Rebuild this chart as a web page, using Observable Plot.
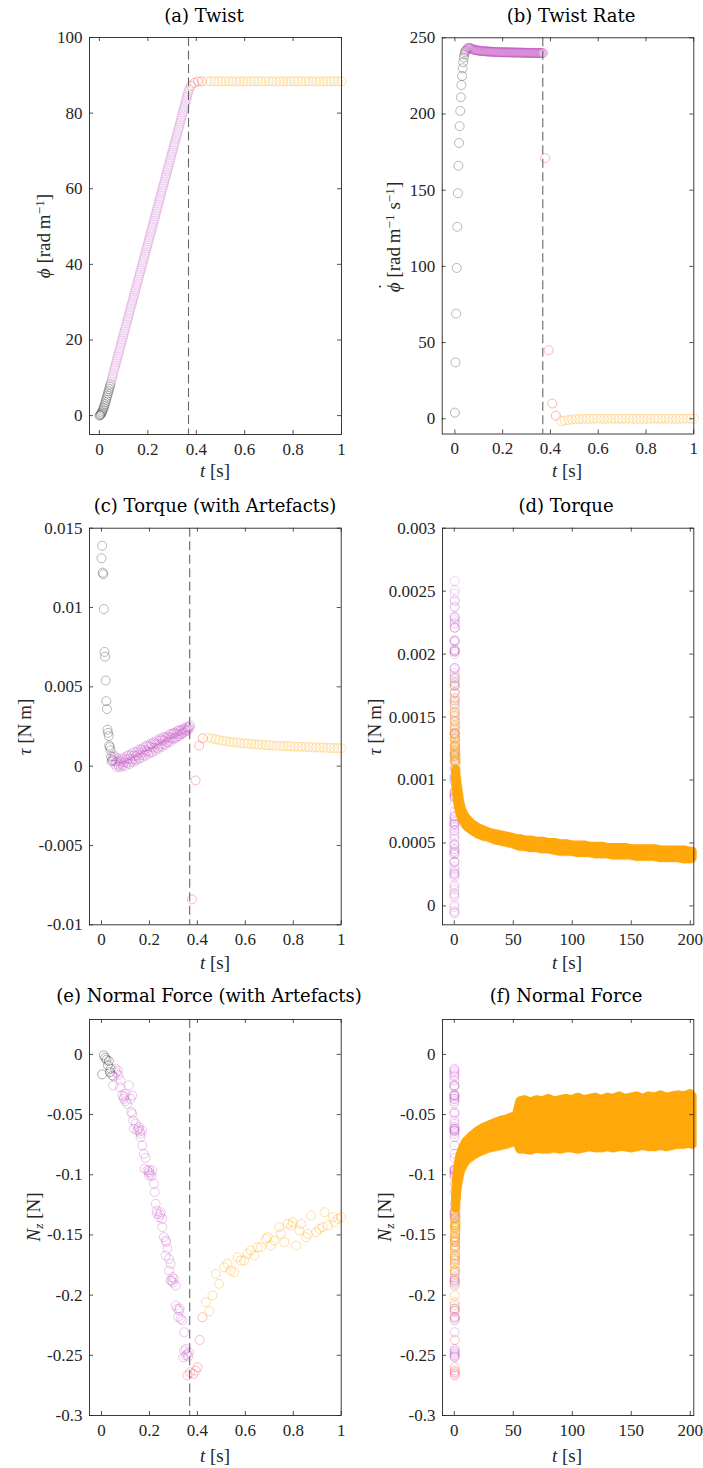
<!DOCTYPE html>
<html><head><meta charset="utf-8">
<script src="https://cdn.jsdelivr.net/npm/d3@7"></script>
<script src="https://cdn.jsdelivr.net/npm/@observablehq/plot@0.6"></script>
<style>
body{margin:0;background:#fff;}
#wrap{position:relative;width:703px;height:1468px;overflow:hidden;background:#fff;}
.title{position:absolute;font-family:"DejaVu Serif";font-size:18px;color:#000;white-space:nowrap;transform:translate(-50%,-50%);line-height:1;}
.lab{position:absolute;font-family:"Liberation Serif";font-size:19px;color:#262626;white-space:nowrap;transform:translate(-50%,-50%);line-height:1;}
.rot{transform:translate(-50%,-50%) rotate(-90deg);}
.lab sup{font-size:70%;vertical-align:0.45em;line-height:0;}
.lab sub{font-size:70%;vertical-align:-0.25em;line-height:0;}
.acc{position:relative;display:inline-block;}
.acc .dd{position:absolute;left:0.08em;right:0;text-align:center;top:-0.42em;font-style:normal;}
</style></head><body><div id="wrap"></div><script>
// ---------- data: first second (panels a, b, c) ----------
const tGray = [0, 0.0025, 0.005, 0.0075, 0.01, 0.0125, 0.015, 0.0175, 0.02, 0.0225, 0.025, 0.0275, 0.03, 0.0325, 0.035, 0.0375, 0.04, 0.0425, 0.045];
const phiGray = [0, 0.1, 0.27, 0.52, 0.83, 1.2, 1.61, 2.06, 2.54, 3.04, 3.57, 4.12, 4.68, 5.26, 5.84, 6.43, 7.03, 7.63, 8.23];
const rateGray = [4, 37, 69, 99, 126, 148, 166, 181, 192, 202, 211, 219, 225, 230, 234, 237, 239, 240.5, 241.5];
const torqueGray = [0.0131, 0.0139, 0.0122, 0.0121, 0.0099, 0.0072, 0.0069, 0.0054, 0.0041, 0.0036, 0.0023, 0.0021, 0.0019, 0.0013, 0.0012, 0.0010, 0.0006, 0.0003, 0.0004];

const tViolet = [0.0475, 0.05, 0.0525, 0.055, 0.0575, 0.06, 0.0625, 0.065, 0.0675, 0.07,
 0.0725, 0.075, 0.0775, 0.08, 0.0825, 0.085, 0.0875, 0.09, 0.0925, 0.095,
 0.0975, 0.1, 0.1025, 0.105, 0.1075, 0.11, 0.1125, 0.115, 0.1175, 0.12,
 0.1225, 0.125, 0.1275, 0.13, 0.1325, 0.135, 0.1375, 0.14, 0.1425, 0.145,
 0.1475, 0.15, 0.1525, 0.155, 0.1575, 0.16, 0.1625, 0.165, 0.1675, 0.17,
 0.1725, 0.175, 0.1775, 0.18, 0.1825, 0.185, 0.1875, 0.19, 0.1925, 0.195,
 0.1975, 0.2, 0.2025, 0.205, 0.2075, 0.21, 0.2125, 0.215, 0.2175, 0.22,
 0.2225, 0.225, 0.2275, 0.23, 0.2325, 0.235, 0.2375, 0.24, 0.2425, 0.245,
 0.2475, 0.25, 0.2525, 0.255, 0.2575, 0.26, 0.2625, 0.265, 0.2675, 0.27,
 0.2725, 0.275, 0.2775, 0.28, 0.2825, 0.285, 0.2875, 0.29, 0.2925, 0.295,
 0.2975, 0.3, 0.3025, 0.305, 0.3075, 0.31, 0.3125, 0.315, 0.3175, 0.32,
 0.3225, 0.325, 0.3275, 0.33, 0.3325, 0.335, 0.3375, 0.34, 0.3425, 0.345,
 0.3475, 0.35, 0.3525, 0.355, 0.3575, 0.36, 0.3625, 0.365, 0.3675, 0.37];
const phiViolet = [8.8, 9.4, 10.0, 10.6, 11.2, 11.9, 12.5, 13.1, 13.7, 14.3,
 14.9, 15.5, 16.1, 16.7, 17.3, 17.9, 18.5, 19.1, 19.7, 20.3,
 20.9, 21.5, 22.1, 22.7, 23.3, 23.9, 24.5, 25.1, 25.7, 26.3,
 26.9, 27.5, 28.1, 28.7, 29.3, 29.9, 30.5, 31.1, 31.7, 32.3,
 32.9, 33.5, 34.1, 34.7, 35.3, 35.9, 36.5, 37.1, 37.7, 38.3,
 38.9, 39.5, 40.1, 40.7, 41.3, 41.9, 42.5, 43.1, 43.7, 44.3,
 44.9, 45.5, 46.1, 46.7, 47.3, 47.9, 48.5, 49.1, 49.7, 50.3,
 50.9, 51.5, 52.1, 52.7, 53.3, 53.9, 54.5, 55.1, 55.7, 56.3,
 56.9, 57.5, 58.1, 58.7, 59.3, 59.9, 60.5, 61.1, 61.7, 62.3,
 62.9, 63.5, 64.1, 64.7, 65.3, 65.9, 66.5, 67.1, 67.7, 68.3,
 68.9, 69.5, 70.1, 70.7, 71.3, 71.9, 72.5, 73.1, 73.7, 74.3,
 74.9, 75.5, 76.1, 76.7, 77.3, 77.9, 78.5, 79.1, 79.7, 80.3,
 80.9, 81.5, 82.1, 82.7, 83.3, 83.9, 84.5, 85.1, 85.7, 86.3];
const rateViolet = [242.0, 242.6, 243.0, 243.3, 243.4, 243.4, 243.3, 243.2, 243.0, 242.8,
 242.6, 242.5, 242.3, 242.2, 242.1, 242.0, 241.9, 241.8, 241.8, 241.7,
 241.6, 241.6, 241.5, 241.5, 241.4, 241.4, 241.3, 241.3, 241.3, 241.2,
 241.2, 241.2, 241.1, 241.1, 241.1, 241.0, 241.0, 241.0, 241.0, 240.9,
 240.9, 240.9, 240.9, 240.8, 240.8, 240.8, 240.8, 240.8, 240.7, 240.7,
 240.7, 240.7, 240.7, 240.6, 240.6, 240.6, 240.6, 240.6, 240.6, 240.5,
 240.5, 240.5, 240.5, 240.5, 240.5, 240.5, 240.5, 240.5, 240.5, 240.5,
 240.5, 240.5, 240.4, 240.4, 240.4, 240.4, 240.4, 240.4, 240.4, 240.4,
 240.3, 240.3, 240.3, 240.3, 240.3, 240.3, 240.3, 240.3, 240.3, 240.3,
 240.3, 240.3, 240.3, 240.2, 240.2, 240.2, 240.2, 240.2, 240.2, 240.2,
 240.2, 240.1, 240.1, 240.1, 240.1, 240.1, 240.1, 240.1, 240.1, 240.1,
 240.1, 240.1, 240.1, 240.1, 240.1, 240.0, 240.0, 240.0, 240.0, 240.0,
 240.0, 240.0, 240.0, 240.0, 240.0, 240.0, 240.0, 240.0, 240.0, 240.0];
const torqueViolet = [0.00060, 0.00035, 0.00060, 0.00065, 0.00010, 0.00027, -0.00006, 0.00031, 0.00049, 0.00007,
 -0.00004, 0.00035, 0.00015, -0.00005, 0.00026, 0.00048, 0.00009, 0.00001, 0.00043, 0.00025,
 0.00057, -0.00001, 0.00041, 0.00023, 0.00065, 0.00017, 0.00049, 0.00071, 0.00013, 0.00045,
 0.00067, 0.00029, 0.00081, 0.00043, 0.00025, 0.00067, 0.00089, 0.00041, 0.00063, 0.00035,
 0.00087, 0.00069, 0.00101, 0.00053, 0.00045, 0.00087, 0.00109, 0.00071, 0.00103, 0.00055,
 0.00087, 0.00119, 0.00071, 0.00103, 0.00065, 0.00127, 0.00099, 0.00091, 0.00133, 0.00075,
 0.00127, 0.00089, 0.00121, 0.00143, 0.00085, 0.00137, 0.00119, 0.00091, 0.00153, 0.00115,
 0.00147, 0.00099, 0.00141, 0.00163, 0.00115, 0.00137, 0.00109, 0.00161, 0.00123, 0.00175,
 0.00137, 0.00169, 0.00121, 0.00163, 0.00185, 0.00137, 0.00159, 0.00181, 0.00133, 0.00175,
 0.00147, 0.00189, 0.00151, 0.00183, 0.00165, 0.00202, 0.00154, 0.00181, 0.00203, 0.00175,
 0.00202, 0.00169, 0.00211, 0.00178, 0.00210, 0.00177, 0.00204, 0.00221, 0.00188, 0.00200,
 0.00227, 0.00189, 0.00221, 0.00203, 0.00230, 0.00202, 0.00224, 0.00211, 0.00238, 0.00210,
 0.00237, 0.00229, 0.00221, 0.00248, 0.00225, 0.00242, 0.00229, 0.00251, 0.00243, 0.00258];

const tRed = [0.3775, 0.3925, 0.4075, 0.4225];
const phiRed = [87.2, 88.0, 88.4, 88.4];
const rateRed = [171, 45, 10, 2];
const torqueRed = [-0.0084, -0.0009, 0.0013, 0.00176];

const tOrange = [0.445, 0.46, 0.475, 0.49, 0.505, 0.52, 0.535, 0.55, 0.565, 0.58,
 0.595, 0.61, 0.625, 0.64, 0.655, 0.67, 0.685, 0.7, 0.715, 0.73,
 0.745, 0.76, 0.775, 0.79, 0.805, 0.82, 0.835, 0.85, 0.865, 0.88,
 0.895, 0.91, 0.925, 0.94, 0.955, 0.97, 0.985, 1.0];
const phiOrange = [88.4, 88.4, 88.4, 88.4, 88.4, 88.4, 88.4, 88.4, 88.4, 88.4,
 88.4, 88.4, 88.4, 88.4, 88.4, 88.4, 88.4, 88.4, 88.4, 88.4,
 88.4, 88.4, 88.4, 88.4, 88.4, 88.4, 88.4, 88.4, 88.4, 88.4,
 88.4, 88.4, 88.4, 88.4, 88.4, 88.4, 88.4, 88.4];
const rateOrange = [-1.6, -1.2, -0.8, -0.5, -0.3, -0.2, -0.1, -0.1, 0, 0,
 0.1, 0, 0, 0, 0.1, 0, 0, 0, 0, 0.1,
 0, 0, 0, 0, 0, 0, 0.1, 0, 0, 0,
 0, 0, 0, 0, 0, 0, 0, 0];
const torqueOrange = [0.00180, 0.00175, 0.00170, 0.00165, 0.00160, 0.00157, 0.00154, 0.00151, 0.00149, 0.00146,
 0.00144, 0.00142, 0.00140, 0.00138, 0.00136, 0.00135, 0.00133, 0.00132, 0.00130, 0.00129,
 0.00128, 0.00127, 0.00126, 0.00125, 0.00124, 0.00123, 0.00122, 0.00121, 0.00120, 0.00119,
 0.00118, 0.00117, 0.00117, 0.00116, 0.00115, 0.00114, 0.00114, 0.00113];

// ---------- data: normal force, first second (panel e) ----------
const tNGray = [0.003, 0.0098, 0.0153, 0.021, 0.027, 0.031, 0.035, 0.038, 0.045];
const nGray = [-0.0166, -0.0008, -0.0028, -0.0044, -0.0091, -0.0055, -0.0147, -0.0119, -0.0175];
const tNViolet = [0.0488, 0.0516, 0.0586, 0.0605, 0.0683, 0.070, 0.0767, 0.0795, 0.0865, 0.0934,
 0.095, 0.100, 0.1004, 0.1074, 0.1144, 0.1213, 0.1241, 0.1283, 0.1283, 0.1325,
 0.1353, 0.1423, 0.1492, 0.155, 0.1562, 0.160, 0.1632, 0.1632, 0.1702, 0.1702,
 0.1771, 0.184, 0.1799, 0.1911, 0.1980, 0.1980, 0.1995, 0.2050, 0.2085, 0.2120,
 0.2190, 0.2218, 0.2259, 0.230, 0.2329, 0.2399, 0.245, 0.2469, 0.2538, 0.2538,
 0.2608, 0.2678, 0.2678, 0.270, 0.2748, 0.2817, 0.2817, 0.2887, 0.2887, 0.292,
 0.2957, 0.298, 0.3026, 0.3096, 0.3096, 0.3166, 0.320, 0.3236, 0.326, 0.3305,
 0.3375, 0.3417, 0.3445, 0.3445, 0.3515, 0.352, 0.3584, 0.3584, 0.362, 0.3654];
const nViolet = [-0.0258, -0.0183, -0.0119, -0.0150, -0.0133, -0.0170, -0.0272, -0.0216, -0.0341, -0.0369,
 -0.0350, -0.0330, -0.0388, -0.0410, -0.0258, -0.0369, -0.0479, -0.0341, -0.0493, -0.0549,
 -0.0618, -0.0576, -0.0632, -0.0620, -0.0604, -0.0640, -0.0659, -0.0687, -0.0632, -0.0756,
 -0.0826, -0.0860, -0.0950, -0.0964, -0.0978, -0.1006, -0.0960, -0.0992, -0.1010, -0.0964,
 -0.1075, -0.1144, -0.1241, -0.1300, -0.1324, -0.1352, -0.1330, -0.1311, -0.1366, -0.1435,
 -0.1518, -0.1546, -0.1671, -0.1560, -0.1615, -0.1699, -0.1796, -0.1740, -0.1879, -0.1880,
 -0.1851, -0.1895, -0.1865, -0.1920, -0.2086, -0.2114, -0.2180, -0.2128, -0.2110, -0.2197,
 -0.2211, -0.2516, -0.2308, -0.2461, -0.2447, -0.2500, -0.2488, -0.2668, -0.2510, -0.2474];
const tNRed = [0.3696, 0.3835, 0.393, 0.4003, 0.410, 0.4212];
const nRed = [-0.2641, -0.2654, -0.2627, -0.2599, -0.2372, -0.2183];
const tNOrange = [0.4351, 0.4491, 0.4630, 0.4770, 0.4909, 0.5119, 0.5258, 0.5397, 0.5537, 0.5676,
 0.5816, 0.5955, 0.6095, 0.6234, 0.6374, 0.6513, 0.6653, 0.6862, 0.6932, 0.7071,
 0.7211, 0.7420, 0.7490, 0.7629, 0.7768, 0.7908, 0.7978, 0.8117, 0.8257, 0.8326,
 0.8536, 0.8605, 0.8745, 0.8954, 0.9093, 0.9233, 0.9303, 0.9442, 0.9651, 0.9721,
 0.9861, 1.0];
const nOrange = [-0.2059, -0.2134, -0.2003, -0.1823, -0.1906, -0.1768, -0.1740, -0.1796, -0.1809, -0.1685,
 -0.1712, -0.1712, -0.1657, -0.1629, -0.1671, -0.1602, -0.1602, -0.1532, -0.1518, -0.1588,
 -0.1546, -0.1435, -0.1491, -0.1560, -0.1408, -0.1421, -0.1394, -0.1588, -0.1463, -0.1408,
 -0.1518, -0.1491, -0.1338, -0.1477, -0.1449, -0.1435, -0.1311, -0.1421, -0.1352, -0.1394,
 -0.1366, -0.1352];

// ---------- data: long-term relaxation (panels d, f): lower / upper edge of the dense band ----------
const tLong = [1.5, 2, 3, 4, 5, 6, 8, 10, 12, 15,
 20, 25, 30, 35, 40, 45, 50, 53, 56, 60,
 65, 70, 75, 80, 85, 90, 95, 100, 105, 110,
 115, 120, 125, 130, 135, 140, 145, 150, 155, 160,
 165, 170, 175, 180, 185, 190, 195, 200, 202];
const torqueLo = [0.00100, 0.00092, 0.00084, 0.00078, 0.00074, 0.00071, 0.00067, 0.00064, 0.00062, 0.00060,
 0.00057, 0.00055, 0.00054, 0.00052, 0.00051, 0.00050, 0.00049, 0.00048, 0.00047, 0.00047,
 0.00046, 0.00046, 0.00045, 0.00045, 0.00044, 0.00043, 0.00043, 0.00043, 0.00042, 0.00042,
 0.00042, 0.00041, 0.00041, 0.00041, 0.00040, 0.00040, 0.00040, 0.00040, 0.00039, 0.00039,
 0.00039, 0.00039, 0.00038, 0.00038, 0.00038, 0.00038, 0.00037, 0.00037, 0.00038];
const torqueHi = [0.00108, 0.00102, 0.00095, 0.00088, 0.00082, 0.00078, 0.00073, 0.00070, 0.00068, 0.00065,
 0.00062, 0.00060, 0.00058, 0.00057, 0.00056, 0.00055, 0.00054, 0.00053, 0.00053, 0.00052,
 0.00052, 0.00051, 0.00051, 0.00050, 0.00050, 0.00049, 0.00049, 0.00048, 0.00048, 0.00048,
 0.00047, 0.00047, 0.00047, 0.00046, 0.00046, 0.00046, 0.00046, 0.00045, 0.00045, 0.00045,
 0.00045, 0.00045, 0.00044, 0.00044, 0.00044, 0.00044, 0.00044, 0.00043, 0.00043];
const normalLo = [-0.128, -0.120, -0.110, -0.104, -0.099, -0.096, -0.092, -0.089, -0.087, -0.085,
 -0.082, -0.080, -0.078, -0.077, -0.076, -0.075, -0.073, -0.072, -0.079, -0.079,
 -0.080, -0.078, -0.079, -0.079, -0.078, -0.079, -0.078, -0.078, -0.079, -0.078,
 -0.077, -0.078, -0.078, -0.077, -0.078, -0.077, -0.077, -0.078, -0.077, -0.076,
 -0.077, -0.077, -0.076, -0.077, -0.076, -0.075, -0.075, -0.074, -0.075];
const normalHi = [-0.118, -0.108, -0.097, -0.090, -0.085, -0.082, -0.077, -0.073, -0.071, -0.068,
 -0.064, -0.061, -0.059, -0.057, -0.055, -0.054, -0.052, -0.051, -0.039, -0.038,
 -0.040, -0.038, -0.039, -0.037, -0.039, -0.038, -0.037, -0.038, -0.036, -0.038,
 -0.037, -0.036, -0.038, -0.036, -0.037, -0.035, -0.037, -0.036, -0.035, -0.037,
 -0.035, -0.036, -0.034, -0.036, -0.035, -0.034, -0.035, -0.033, -0.035];

const tSwitch = [0.368];

// ---------- ticks ----------
const xTicks1 = [0, 0.2, 0.4, 0.6, 0.8, 1];
const xTicks200 = [0, 50, 100, 150, 200];
const yTicksA = [0, 20, 40, 60, 80, 100];
const yTicksB = [0, 50, 100, 150, 200, 250];
const yTicksC = [-0.01, -0.005, 0, 0.005, 0.01, 0.015];
const yTicksD = [0, 0.0005, 0.001, 0.0015, 0.002, 0.0025, 0.003];
const yTicksE = [-0.3, -0.25, -0.2, -0.15, -0.1, -0.05, 0];

// ---------- styles ----------
const GRAY = "#3a3a3a", VIOLET = "#C050C0", RED = "#FF4A4A", ORANGE = "#FFA500";
const wrap = document.getElementById("wrap");

function dots(x, y, color, op) {
  return Plot.dot(x, {x: x, y: y, r: 4.5, stroke: color, strokeOpacity: op, strokeWidth: 0.8, fill: "none"});
}
function band(x, lo, hi) {
  return Plot.areaY(x, {x: x, y1: lo, y2: hi, fill: ORANGE, stroke: ORANGE, strokeWidth: 9, strokeLinejoin: "round", opacity: 0.95});
}
function dashed() {
  return Plot.ruleX(tSwitch, {x: d => d, stroke: "#666", strokeWidth: 1.1, strokeDasharray: "9,4.5"});
}

function panel(o) {
  const {left, top, width, height, mL, mR, mT, mB, xd, yd, xt, yt, marks} = o;
  const kx = (width - mL - mR) / (xd[1] - xd[0]);
  const ky = (height - mT - mB) / (yd[1] - yd[0]);
  const L = 4, dx = L / kx, dy = L / ky;
  const ts = {stroke: "#262626", strokeWidth: 0.8};
  const p = Plot.plot({
    width, height, marginLeft: mL, marginRight: mR, marginTop: mT, marginBottom: mB,
    x: {domain: xd}, y: {domain: yd},
    style: {fontFamily: "Liberation Serif", fontSize: "17px", background: "transparent", overflow: "visible", color: "#262626"},
    marks: [
      ...marks,
      Plot.ruleX(xt, {x: d => d, y1: yd[0], y2: yd[0] + dy, ...ts}),
      Plot.ruleX(xt, {x: d => d, y1: yd[1] - dy, y2: yd[1], ...ts}),
      Plot.ruleY(yt, {y: d => d, x1: xd[0], x2: xd[0] + dx, ...ts}),
      Plot.ruleY(yt, {y: d => d, x1: xd[1] - dx, x2: xd[1], ...ts}),
      Plot.frame({stroke: "#262626", strokeWidth: 0.9}),
      Plot.axisX({ticks: xt, tickSize: 0, tickPadding: 8, tickFormat: d => String(d), label: null, fill: "#262626", fontSize: 17}),
      Plot.axisY({ticks: yt, tickSize: 0, tickPadding: 7, tickFormat: d => String(d), label: null, fill: "#262626", fontSize: 17})
    ]
  });
  p.style.position = "absolute";
  p.style.left = left + "px";
  p.style.top = top + "px";
  wrap.appendChild(p);
}

function addText(cls, html, x, y) {
  const d = document.createElement("div");
  d.className = cls;
  d.innerHTML = html;
  d.style.left = x + "px";
  d.style.top = y + "px";
  wrap.appendChild(d);
}

// (a) Twist
panel({left: 0, top: 0, width: 351, height: 480, mL: 89, mR: 10, mT: 37, mB: 46,
  xd: [-0.041, 1], yd: [-5, 100], xt: xTicks1, yt: yTicksA,
  marks: [dots(tGray, phiGray, GRAY, 0.45), dots(tViolet, phiViolet, VIOLET, 0.3),
          dots(tRed, phiRed, RED, 0.5), dots(tOrange, phiOrange, ORANGE, 0.4), dashed()]});
// (b) Twist rate
panel({left: 351, top: 0, width: 352, height: 480, mL: 90.7, mR: 9.7, mT: 37.3, mB: 46.5,
  xd: [-0.053, 1], yd: [-10, 250], xt: xTicks1, yt: yTicksB,
  marks: [dots(tGray, rateGray, GRAY, 0.45), dots(tViolet, rateViolet, VIOLET, 0.35),
          dots(tRed, rateRed, RED, 0.5), dots(tOrange, rateOrange, ORANGE, 0.4), dashed()]});
// (c) Torque with artefacts
panel({left: 0, top: 480, width: 351, height: 490, mL: 89, mR: 10.3, mT: 47.7, mB: 45.7,
  xd: [-0.05, 1], yd: [-0.01, 0.015], xt: xTicks1, yt: yTicksC,
  marks: [dots(tGray, torqueGray, GRAY, 0.45), dots(tViolet, torqueViolet, VIOLET, 0.35),
          dots(tRed, torqueRed, RED, 0.5), dots(tOrange, torqueOrange, ORANGE, 0.4), dashed()]});
// (d) Torque
panel({left: 351, top: 480, width: 352, height: 490, mL: 91, mR: 9.7, mT: 47.7, mB: 45.7,
  xd: [-10, 203], yd: [-0.00015, 0.003], xt: xTicks200, yt: yTicksD,
  marks: [dots(tViolet, torqueViolet, VIOLET, 0.3), dots(tOrange, torqueOrange, ORANGE, 0.45),
          band(tLong, torqueLo, torqueHi),
          dots(tLong, torqueLo, ORANGE, 0.3), dots(tLong, torqueHi, ORANGE, 0.3)]});
// (e) Normal force with artefacts
panel({left: 0, top: 970, width: 351, height: 498, mL: 89, mR: 10.3, mT: 49, mB: 53,
  xd: [-0.05, 1], yd: [-0.3, 0.029], xt: xTicks1, yt: yTicksE,
  marks: [dots(tNGray, nGray, GRAY, 0.5), dots(tNViolet, nViolet, VIOLET, 0.4),
          dots(tNRed, nRed, RED, 0.45), dots(tNOrange, nOrange, ORANGE, 0.45), dashed()]});
// (f) Normal force
panel({left: 351, top: 970, width: 352, height: 498, mL: 91, mR: 9.7, mT: 49, mB: 53,
  xd: [-10, 203], yd: [-0.3, 0.029], xt: xTicks200, yt: yTicksE,
  marks: [dots(tNViolet, nViolet, VIOLET, 0.4), dots(tNRed, nRed, RED, 0.45), dots(tNOrange, nOrange, ORANGE, 0.5),
          band(tLong, normalLo, normalHi),
          dots(tLong, normalLo, ORANGE, 0.3), dots(tLong, normalHi, ORANGE, 0.3)]});

// titles
addText("title", "(a) Twist", 204, 16);
addText("title", "(b) Twist Rate", 571, 16);
addText("title", "(c) Torque (with Artefacts)", 215, 506);
addText("title", "(d) Torque", 566, 506);
addText("title", "(e) Normal Force (with Artefacts)", 209, 996);
addText("title", "(f) Normal Force", 566, 996);
// x labels
const tLab = "<i>t</i> [s]";
addText("lab", tLab, 215, 470);
addText("lab", tLab, 567, 470);
addText("lab", tLab, 215, 962);
addText("lab", tLab, 567, 962);
addText("lab", tLab, 215, 1455);
addText("lab", tLab, 567, 1455);
// y labels
addText("lab rot", "<i>ϕ</i> [rad&#8201;m<sup>&minus;1</sup>]", 43, 236);
addText("lab rot", "<span class=\"acc\"><i>ϕ</i><span class=\"dd\">˙</span></span> [rad&#8201;m<sup>&minus;1</sup> s<sup>&minus;1</sup>]", 393, 237);
addText("lab rot", "<i>τ</i> [N&#8201;m]", 24, 727);
addText("lab rot", "<i>τ</i> [N&#8201;m]", 374, 727);
addText("lab rot", "<i>N<sub>z</sub></i> [N]", 33, 1217);
addText("lab rot", "<i>N<sub>z</sub></i> [N]", 384, 1217);
</script></body></html>
